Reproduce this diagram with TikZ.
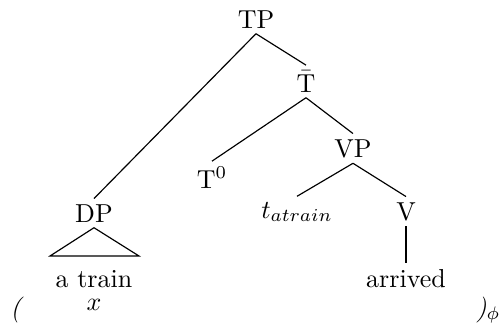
\documentclass[tikz,border=0pt]{standalone}
\usepackage{amsmath}
\begin{document}
\begin{tikzpicture}[x=0.385pt,y=-0.385pt,
  lab/.style={anchor=base,inner sep=2pt},
  edge/.style={draw=black,line width=0.45pt}]
\useasboundingbox (0,0) rectangle (502,328);
\node[lab] (TP) at (256,28) {TP};
\node[lab] (Tb) at (306,92) {$\bar{\text{T}}$};
\node[lab] (T0) at (212,188) {T$^0$};
\node[lab] (VP) at (353,157) {VP};
\node[lab] (DP) at (94,222) {DP};
\node[lab] (t) at (297,218) {$t_{atrain}$};
\node[lab] (V) at (406,220) {V};
\node[lab] (atrain) at (94,287) {a train};
\node[lab] (arr) at (406,287) {arrived};
\node[lab] (lp) at (17,316) {\textit{(}};
\node[lab] (x) at (94,310) {$x$};
\node[lab,anchor=base east,inner sep=0pt] (rp) at (501,316) {\textit{)}$_\phi$};
\coordinate (bl) at (50,256);
\coordinate (br) at (139,256);
\draw[edge] (TP.south) -- (Tb.north);
\draw[edge] (TP.south) -- (DP.north);
\draw[edge] (Tb.south) -- (T0.north);
\draw[edge] (Tb.south) -- (VP.north);
\draw[edge] (VP.south) -- (t.north);
\draw[edge] (VP.south) -- (V.north);
\draw[edge] (V.south) -- (arr.north);
\draw[edge] (DP.south) -- (bl) -- (br) -- cycle;
\end{tikzpicture}
\end{document}
